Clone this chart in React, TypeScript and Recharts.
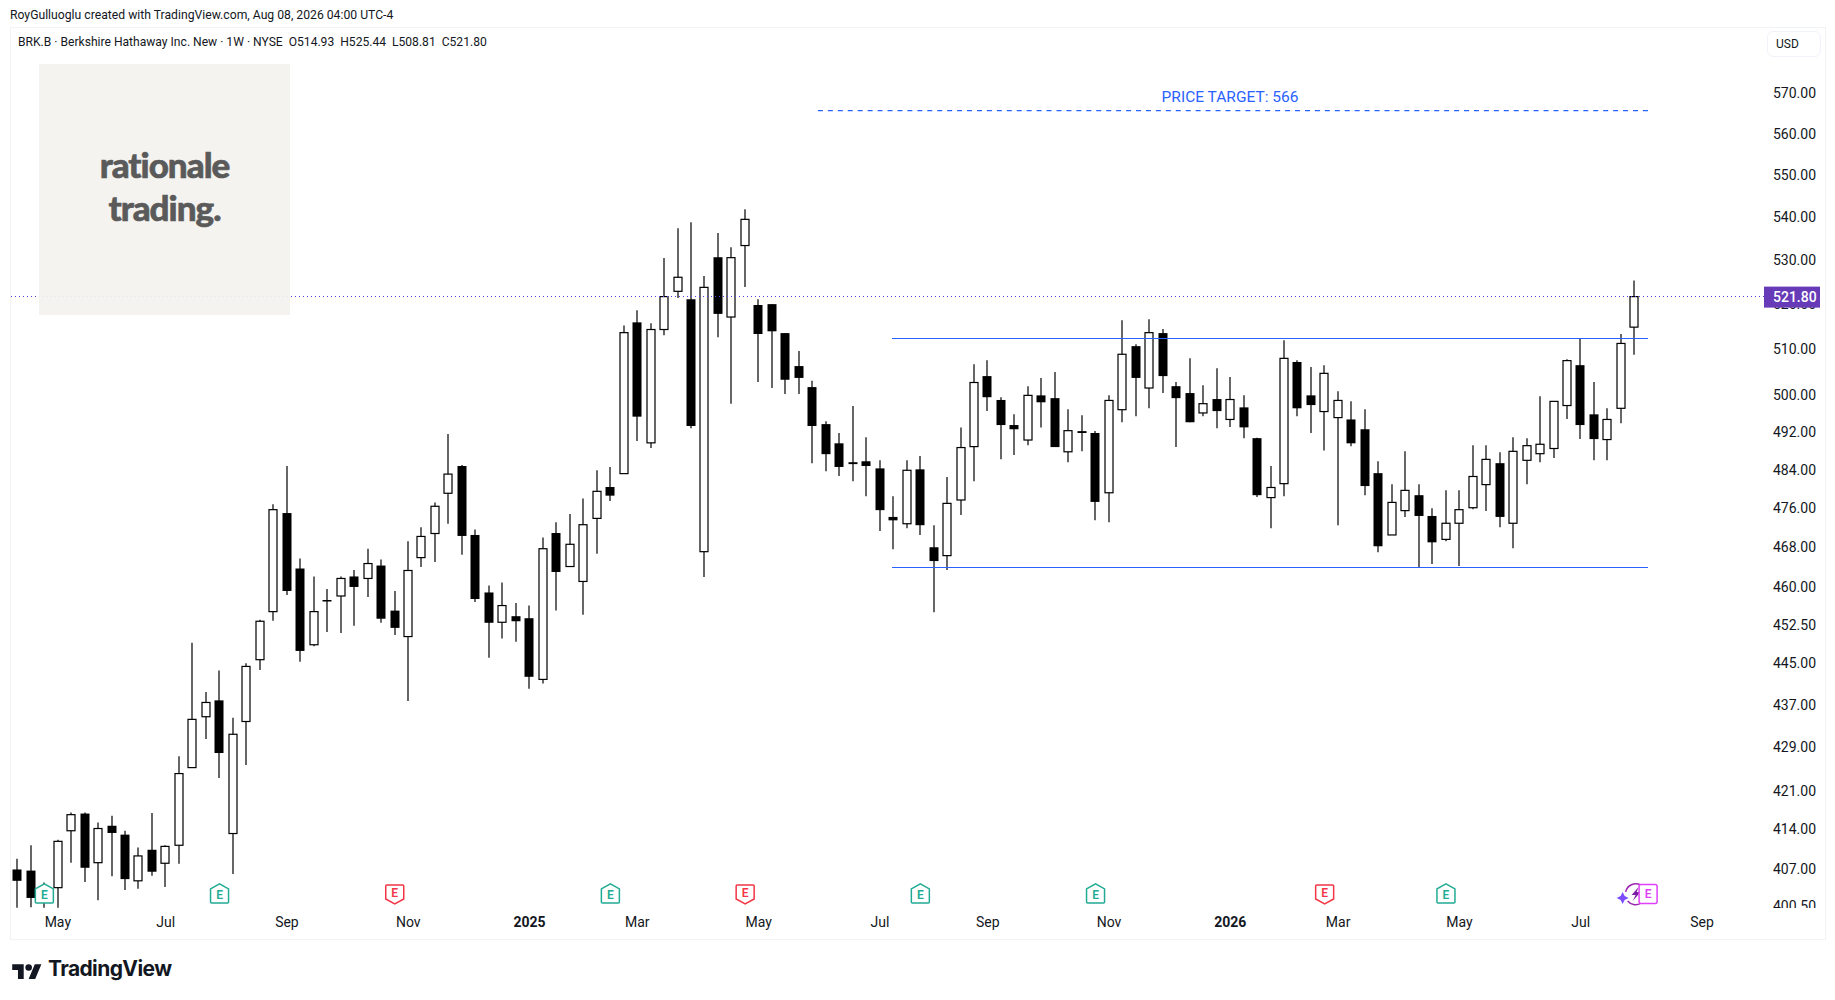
import { Bar, ComposedChart, ReferenceDot, ReferenceLine, XAxis, YAxis } from "recharts";

const highs = [
  408.8, 411.2, 404.6, 412.2, 417.1, 417.1, 415.3, 416.5, 413.8, 410.8, 417.0, 411.2, 427.4, 449.0, 439.5, 443.6, 434.6, 445.0, 453.5, 476.8,
  484.8, 465.7, 462.1, 459.6, 462.1, 463.4, 467.7, 465.5, 459.2, 469.2, 472.1, 477.2, 491.6, 485.0, 471.6, 460.3, 460.9, 456.8, 456.3, 470.0,
  473.1, 474.8, 478.0, 483.9, 484.6, 515.3, 518.7, 515.8, 530.6, 537.5, 538.9, 526.5, 536.4, 533.1, 542.0, 521.2, 520.1, 513.6, 509.6, 503.1,
  494.3, 491.8, 497.6, 490.9, 486.0, 478.5, 486.0, 486.9, 472.5, 482.5, 493.0, 506.7, 507.6, 499.5, 495.8, 501.9, 503.7, 505.0, 496.9, 495.6,
  492.2, 499.9, 516.5, 511.1, 516.7, 514.5, 502.8, 508.0, 502.1, 505.8, 503.9, 499.9, 490.8, 484.8, 512.0, 507.6, 506.1, 506.5, 500.8, 498.6,
  496.9, 485.8, 481.0, 487.9, 481.0, 476.0, 479.7, 479.7, 489.2, 489.2, 487.7, 490.9, 490.7, 499.7, 498.6, 507.8, 512.5, 502.8, 497.1, 513.4,
  525.44,
];
const bodyTops = [
  406.9, 406.7, 403.8, 411.9, 416.7, 416.9, 414.2, 414.7, 413.1, 409.3, 410.4, 411.0, 424.2, 434.3, 437.5, 437.9, 431.5, 444.4, 453.2, 475.7,
  475.0, 463.7, 455.1, 457.4, 461.7, 462.1, 464.7, 464.3, 455.3, 463.3, 470.2, 476.4, 483.1, 484.8, 470.5, 458.9, 456.3, 454.2, 453.8, 467.7,
  470.9, 468.6, 472.6, 479.5, 480.4, 513.7, 516.0, 514.4, 521.8, 526.2, 521.2, 523.9, 530.8, 530.7, 539.6, 519.9, 520.1, 513.6, 506.3, 501.7,
  493.7, 489.6, 485.6, 485.8, 484.3, 474.2, 483.9, 484.1, 468.0, 477.0, 488.7, 502.7, 504.1, 498.9, 493.5, 499.9, 499.9, 499.3, 492.3, 492.2,
  491.8, 498.8, 508.9, 510.7, 513.7, 513.6, 501.9, 500.4, 498.1, 499.1, 499.0, 497.3, 490.7, 480.3, 508.0, 507.2, 499.9, 504.7, 498.8, 494.7,
  492.6, 483.3, 477.2, 479.7, 478.7, 474.4, 472.9, 475.7, 482.6, 486.2, 485.4, 487.9, 489.1, 489.4, 498.6, 507.5, 506.5, 495.8, 494.7, 511.3,
  521.8,
];
const bodyBottoms = [
  404.9, 401.9, 401.2, 403.7, 413.8, 407.2, 408.1, 413.4, 405.2, 404.9, 406.5, 408.0, 411.2, 425.3, 434.8, 428.0, 413.3, 433.9, 445.7, 455.1,
  459.2, 447.4, 448.6, 457.2, 458.2, 460.0, 461.7, 453.7, 451.9, 450.2, 465.9, 470.8, 479.1, 470.3, 457.6, 452.9, 453.0, 453.2, 442.4, 441.9,
  463.0, 464.1, 461.1, 473.9, 478.6, 483.2, 495.3, 489.7, 514.4, 523.0, 493.3, 467.1, 517.9, 517.2, 533.5, 513.4, 514.0, 503.3, 503.7, 493.3,
  487.3, 484.6, 485.2, 484.8, 475.6, 473.5, 472.8, 472.5, 465.2, 466.3, 477.7, 488.9, 499.5, 493.5, 492.6, 490.3, 498.4, 488.8, 487.8, 491.8,
  477.3, 479.2, 496.8, 503.7, 501.5, 504.1, 499.3, 494.1, 496.1, 496.5, 494.7, 493.0, 478.7, 478.2, 481.1, 497.1, 497.8, 496.4, 495.1, 489.6,
  480.6, 468.2, 470.5, 475.5, 474.4, 469.0, 469.6, 472.9, 476.1, 480.9, 474.2, 472.9, 486.0, 487.4, 488.5, 497.7, 493.5, 490.5, 490.4, 497.1,
  514.93,
];
const lows = [
  400.2, 400.3, 400.2, 400.2, 408.1, 404.7, 401.5, 405.7, 403.3, 403.5, 405.8, 403.8, 407.9, 425.3, 430.6, 423.4, 406.1, 425.8, 443.7, 453.3,
  458.4, 445.3, 448.3, 451.1, 450.9, 452.3, 458.0, 452.9, 450.5, 437.8, 464.0, 465.0, 472.8, 466.5, 457.0, 446.1, 449.8, 449.2, 440.1, 441.1,
  455.3, 464.1, 454.5, 466.7, 477.5, 483.2, 490.1, 488.6, 513.1, 521.5, 492.8, 462.0, 512.7, 498.1, 524.0, 502.8, 501.5, 500.2, 500.2, 485.4,
  483.7, 482.7, 481.6, 478.5, 471.3, 467.6, 471.9, 470.5, 455.0, 463.4, 474.6, 481.6, 496.5, 486.2, 487.1, 489.2, 493.0, 488.8, 485.6, 487.9,
  473.5, 473.1, 494.1, 495.4, 497.1, 500.4, 488.8, 494.1, 495.4, 492.8, 493.1, 490.7, 478.3, 471.9, 478.5, 495.4, 491.8, 488.1, 472.5, 489.0,
  478.7, 467.0, 470.5, 474.2, 464.0, 464.6, 469.2, 464.2, 475.8, 475.4, 472.1, 467.8, 481.0, 485.6, 486.5, 494.8, 490.5, 486.0, 486.0, 493.9,
  508.81,
];
// weeks that closed lower, drawn solid
const downWeeks = [
  0, 1, 5, 7, 8, 10, 15, 20, 21, 23, 25, 27, 28, 33, 34, 35, 37, 38, 40, 44, 46, 50, 52, 55, 56, 57, 58, 59, 60, 61, 62, 63, 64, 65, 67, 68, 72,
  73, 74, 76, 77, 79, 80, 83, 85, 86, 87, 89, 91, 92, 95, 96, 99, 100, 101, 104, 105, 110, 116, 117,
];

const dateTicks = [3, 11, 20, 29, 38, 46, 55, 64, 72, 81, 90, 98, 107, 116, 125];
const dateLabels = ["May", "Jul", "Sep", "Nov", "2025", "Mar", "May", "Jul", "Sep", "Nov", "2026", "Mar", "May", "Jul", "Sep"];
const LAST_CLOSE = 521.8;
const priceTicks = [570, 560, 550, 540, 530, 520, 510, 500, 492, 484, 476, 468, 460, 452.5, 445, 437, 429, 421, 414, 407, 400.5, LAST_CLOSE];

const earningsWeeks = [2, 15, 28, 44, 54, 67, 80, 97, 106];
const earningsBeat = [true, true, false, true, false, true, true, false, true];
const EARNINGS_PRICE = 402.6;
const NEXT_EARNINGS_WEEK = 121;
const DIVIDEND_WEEK = 120;

const TARGET = 565.7;
const RESISTANCE = 512.4;
const SUPPORT = 463.9;

const data = highs.map((high, i) => ({
  i,
  high,
  low: lows[i],
  top: bodyTops[i],
  bottom: bodyBottoms[i],
  down: downWeeks.includes(i),
}));

const INK = "#131722";
const FONT = "Roboto, sans-serif";

const Candle = (props: any) => {
  const { x, y, width, height, payload } = props;
  const at = (p: number) => y + (height * Math.log(payload.high / p)) / Math.log(payload.high / payload.low);
  const cx = Math.round(x + width / 2);
  const top = at(payload.top);
  const bottom = at(payload.bottom);
  return (
    <g>
      <line x1={cx} x2={cx} y1={y} y2={y + height} stroke="#000" strokeWidth={1.2} />
      {payload.down ? (
        <rect x={cx - 4.5} y={top} width={9} height={Math.max(bottom - top, 1.5)} fill="#000" />
      ) : (
        <rect x={cx - 4} y={top} width={8} height={bottom - top} fill="#fff" stroke="#000" strokeWidth={1.2} />
      )}
    </g>
  );
};

const EarningsMark = ({ cx, cy, beat }: any) => {
  const color = beat ? "#22ab94" : "#f23645";
  const d = beat
    ? `M${cx - 9} ${cy - 5} L${cx} ${cy - 10} L${cx + 9} ${cy - 5} V${cy + 8} Q${cx + 9} ${cy + 9} ${cx + 8} ${cy + 9} H${cx - 8} Q${cx - 9} ${cy + 9} ${cx - 9} ${cy + 8} Z`
    : `M${cx - 9} ${cy - 8} Q${cx - 9} ${cy - 9} ${cx - 8} ${cy - 9} H${cx + 8} Q${cx + 9} ${cy - 9} ${cx + 9} ${cy - 8} V${cy + 5} L${cx} ${cy + 10} L${cx - 9} ${cy + 5} Z`;
  return (
    <g>
      <path d={d} fill="#fff" stroke={color} strokeWidth={1.5} />
      <text x={cx} y={cy + (beat ? 5.5 : 3.5)} textAnchor="middle" fontFamily={FONT} fontSize={12} fontWeight={600} fill={color}>
        E
      </text>
    </g>
  );
};

const NextEarnings = ({ cx, cy }: any) => (
  <g>
    <rect x={cx - 9} y={cy - 9.5} width={18} height={19} rx={2} fill="#fff" stroke="#e040fb" strokeWidth={1.5} />
    <text x={cx} y={cy + 4.5} textAnchor="middle" fontFamily={FONT} fontSize={12} fontWeight={600} fill="#e040fb">
      E
    </text>
  </g>
);

const DividendMark = ({ cx, cy }: any) => (
  <g>
    <path d={`M${cx + 6} ${cy - 9} A10.5 10.5 0 0 0 ${cx - 9} ${cy - 2}`} fill="none" stroke="#9c27b0" strokeWidth={1.5} />
    <path d={`M${cx - 7} ${cy + 7} A10.5 10.5 0 0 0 ${cx + 6} ${cy + 9.5}`} fill="none" stroke="#9c27b0" strokeWidth={1.5} />
    <path d={`M${cx + 4} ${cy - 7} L${cx - 3} ${cy + 1} H${cx + 1} L${cx - 2} ${cy + 7} L${cx + 6} ${cy - 2} H${cx + 2} Z`} fill="#7b1fa2" />
    <path d={`M${cx - 12} ${cy - 2} L${cx - 10} ${cy + 2} L${cx - 6} ${cy + 4} L${cx - 10} ${cy + 6} L${cx - 12} ${cy + 10} L${cx - 14} ${cy + 6} L${cx - 18} ${cy + 4} L${cx - 14} ${cy + 2} Z`} fill="#7c4dff" />
  </g>
);

const DateTick = ({ x, y, payload }: any) => {
  const label = dateLabels[dateTicks.indexOf(payload.value)];
  return (
    <text x={x} y={y} textAnchor="middle" dominantBaseline="middle" fontFamily={FONT} fontSize={14} fontWeight={label.length === 4 ? 700 : 400} fill={INK}>
      {label}
    </text>
  );
};

const PriceTick = ({ x, y, payload }: any) => {
  const value = payload.value;
  const label = value.toFixed(2);
  if (value === LAST_CLOSE) {
    return (
      <g>
        <rect x={x - 9} y={y - 10} width={56} height={21} fill="#673ab7" />
        <text x={x} y={y + 1.5} dominantBaseline="middle" fontFamily={FONT} fontSize={14} fontWeight={500} fill="#fff">
          {label}
        </text>
      </g>
    );
  }
  return (
    <g>
      {value === 400.5 && (
        <clipPath id="paneEdge">
          <rect x={x - 4} y={y - 12} width={60} height={14} />
        </clipPath>
      )}
      <text x={x} y={y + 1} dominantBaseline="middle" fontFamily={FONT} fontSize={14} fill={INK} clipPath={value === 400.5 ? "url(#paneEdge)" : undefined}>
        {label}
      </text>
    </g>
  );
};

export default function App() {
  return (
    <div style={{ position: "absolute", left: 0, top: 0, width: 1835, height: 1000, background: "#fff", overflow: "hidden", fontFamily: FONT, color: INK }}>
      <div style={{ position: "absolute", left: 10, top: 7, fontSize: 12.2, lineHeight: "16px", whiteSpace: "nowrap" }}>
        RoyGulluoglu created with TradingView.com, Aug 08, 2026 04:00 UTC-4
      </div>
      <div style={{ position: "absolute", left: 9.5, top: 26.5, width: 1816, height: 913, border: "1.5px solid #f2f3f5", boxSizing: "border-box" }} />

      <div style={{ position: "absolute", left: 0, top: 0 }}>
        <ComposedChart width={1835} height={1000} data={data} margin={{ top: 27, right: 9, bottom: 60, left: 11 }}>
          <XAxis
            dataKey="i"
            type="number"
            domain={[-0.475, 129.6]}
            ticks={dateTicks}
            interval={0}
            height={32}
            axisLine={false}
            tickLine={false}
            tickSize={0}
            tickMargin={15}
            tick={<DateTick />}
            allowDataOverflow
          />
          <YAxis
            orientation="right"
            scale="log"
            domain={[400.15, 586.6]}
            ticks={priceTicks}
            interval={0}
            width={62}
            axisLine={false}
            tickLine={false}
            tickSize={0}
            tickMargin={9}
            tick={<PriceTick />}
            allowDataOverflow
          />
          <ReferenceLine y={LAST_CLOSE} stroke="#5c3bd9" strokeWidth={1} strokeDasharray="1 3" shapeRendering="crispEdges" />
          <Bar dataKey={(d: any) => [d.low, d.high]} barSize={9} shape={<Candle />} isAnimationActive={false} />
          <ReferenceLine
            segment={[{ x: 59.4, y: TARGET }, { x: 121, y: TARGET }]}
            stroke="#2962ff"
            strokeWidth={1.2}
            strokeDasharray="5 4.94"
            label={{ value: "PRICE TARGET: 566", position: "top", fill: "#2962ff", fontSize: 15.5, fontFamily: FONT, offset: 9, dx: -3 }}
          />
          <ReferenceLine segment={[{ x: 64.9, y: RESISTANCE }, { x: 121, y: RESISTANCE }]} stroke="#2962ff" strokeWidth={1.2} shapeRendering="crispEdges" />
          <ReferenceLine segment={[{ x: 64.9, y: SUPPORT }, { x: 121, y: SUPPORT }]} stroke="#2962ff" strokeWidth={1.2} shapeRendering="crispEdges" />
          {earningsWeeks.map((week, k) => (
            <ReferenceDot key={week} x={week} y={EARNINGS_PRICE} r={9} shape={(p: any) => <EarningsMark {...p} beat={earningsBeat[k]} />} />
          ))}
          <ReferenceDot x={DIVIDEND_WEEK} y={EARNINGS_PRICE} r={9} shape={(p: any) => <DividendMark {...p} />} />
          <ReferenceDot x={NEXT_EARNINGS_WEEK} y={EARNINGS_PRICE} r={9} shape={(p: any) => <NextEarnings {...p} />} />
        </ComposedChart>
      </div>

      <div style={{ position: "absolute", left: 18, top: 34, fontSize: 12.1, lineHeight: "16px", whiteSpace: "pre" }}>
        {"BRK.B · Berkshire Hathaway Inc. New · 1W · NYSE  O514.93  H525.44  L508.81  C521.80"}
      </div>
      <div style={{ position: "absolute", left: 1767, top: 31, width: 54, height: 26, border: "1.5px solid #f0f3fa", borderRadius: 6, boxSizing: "border-box", fontSize: 12, lineHeight: "25px", paddingLeft: 8 }}>
        USD
      </div>

      <div style={{ position: "absolute", left: 39, top: 64, width: 251, height: 251, background: "rgba(243,242,238,0.93)", color: "#5a5a5a", textAlign: "center", fontFamily: "Lato, sans-serif", fontWeight: 900, fontSize: 35, letterSpacing: -1, lineHeight: "43px", paddingTop: 79, boxSizing: "border-box", WebkitTextStroke: "0.6px #5a5a5a" }}>
        rationale
        <br />
        trading.
      </div>

      <svg style={{ position: "absolute", left: 12, top: 961 }} width={30} height={23} viewBox="0 0 36 28">
        <path d="M14 22H7V11H0V4h14v18zM28 22h-8l7.5-18h8L28 22z" fill="#131722" />
        <circle cx={20} cy={8} r={4} fill="#131722" />
      </svg>
      <div style={{ position: "absolute", left: 48, top: 954, fontFamily: "Inter, sans-serif", fontSize: 21, lineHeight: "30px", fontWeight: 700, letterSpacing: -0.6 }}>
        TradingView
      </div>
    </div>
  );
}
